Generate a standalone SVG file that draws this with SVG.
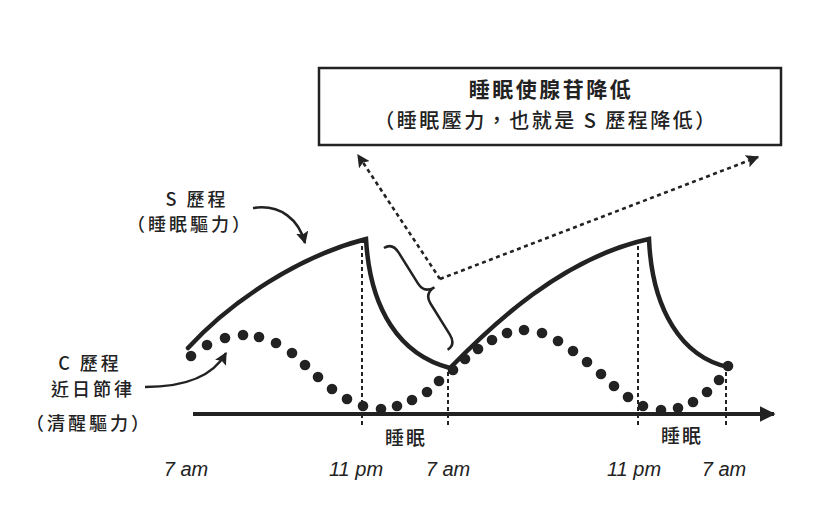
<svg xmlns="http://www.w3.org/2000/svg" width="814" height="510" viewBox="0 0 814 510">
<style>
.cjk{font-family:"Noto Sans CJK TC","Noto Sans CJK SC",sans-serif;fill:#222;text-anchor:middle;font-weight:500}
.title{font-weight:bold}
.time{font-family:"Liberation Sans",Arial,sans-serif;font-style:italic;font-size:20px;fill:#222;text-anchor:middle}
.curve{fill:none;stroke:#222;stroke-width:4.5;stroke-linejoin:miter;stroke-linecap:round}
.vdot{fill:none;stroke:#222;stroke-width:2;stroke-dasharray:4 3}
.ddash{fill:none;stroke:#222;stroke-width:2.6;stroke-dasharray:4 3.5}
.thin{fill:none;stroke:#222;stroke-width:2.5}
.dot{fill:#222}
</style>
<defs>
<marker id="ah" viewBox="0 0 10 10" refX="9" refY="5" markerWidth="5" markerHeight="5" markerUnits="strokeWidth" orient="auto">
<path d="M0,0 L10,5 L0,10 L2,5 z" fill="#222"/>
</marker>
<marker id="ahd" viewBox="0 0 10 10" refX="9" refY="5" markerWidth="5" markerHeight="5" markerUnits="strokeWidth" orient="auto">
<path d="M0,0 L10,5 L0,10 L2,5 z" fill="#222"/>
</marker>
<marker id="axh" viewBox="0 0 10 10" refX="9" refY="5" markerWidth="4" markerHeight="4" markerUnits="strokeWidth" orient="auto">
<path d="M0,0 L10,5 L0,10 z" fill="#222"/>
</marker>
</defs>
<rect width="814" height="510" fill="#fff"/>

<g id="callout-box">
<rect x="319" y="68" width="462" height="77" fill="#fff" stroke="#222" stroke-width="2.5"/>
<text class="cjk title" x="551" y="97" font-size="21" letter-spacing="2.5">睡眠使腺苷降低</text>
<text class="cjk" x="546" y="128" font-size="20" letter-spacing="2.5">（睡眠壓力，也就是 S 歷程降低）</text>
</g>

<g id="s-label">
<text class="cjk" x="197" y="206" font-size="18" letter-spacing="3">S 歷程</text>
<text class="cjk" x="190" y="231" font-size="18" letter-spacing="3">（睡眠驅力）</text>
</g>

<g id="c-label">
<text class="cjk" x="90" y="370" font-size="18" letter-spacing="3">C 歷程</text>
<text class="cjk" x="93" y="396" font-size="18" letter-spacing="3">近日節律</text>
<text class="cjk" x="89" y="430" font-size="18" letter-spacing="3">（清醒驅力）</text>
</g>

<g id="s-process">
<path class="curve" d="M188,348 C232,300 300,256 366,239 C370,310 400,355 450,368 C492,325 562,258 649,239 C652,310 682,357 728,367"/>
</g>

<g id="c-process">
<circle class="dot" cx="191" cy="356" r="5.3"/>
<circle class="dot" cx="207" cy="345" r="5.3"/>
<circle class="dot" cx="225" cy="338" r="5.3"/>
<circle class="dot" cx="243" cy="335" r="5.3"/>
<circle class="dot" cx="259" cy="337" r="5.3"/>
<circle class="dot" cx="276" cy="343" r="5.3"/>
<circle class="dot" cx="292" cy="353" r="5.3"/>
<circle class="dot" cx="305" cy="365" r="5.3"/>
<circle class="dot" cx="318" cy="377" r="5.3"/>
<circle class="dot" cx="332" cy="389" r="5.3"/>
<circle class="dot" cx="347" cy="399" r="5.3"/>
<circle class="dot" cx="363" cy="406" r="5.3"/>
<circle class="dot" cx="381" cy="409" r="5.3"/>
<circle class="dot" cx="397" cy="406" r="5.3"/>
<circle class="dot" cx="412" cy="400" r="5.3"/>
<circle class="dot" cx="427" cy="392" r="5.3"/>
<circle class="dot" cx="439" cy="381" r="5.3"/>
<circle class="dot" cx="453" cy="370" r="5.3"/>
<circle class="dot" cx="465" cy="359" r="5.3"/>
<circle class="dot" cx="478" cy="349" r="5.3"/>
<circle class="dot" cx="492" cy="340" r="5.3"/>
<circle class="dot" cx="507" cy="333" r="5.3"/>
<circle class="dot" cx="524" cy="330" r="5.3"/>
<circle class="dot" cx="542" cy="333" r="5.3"/>
<circle class="dot" cx="558" cy="341" r="5.3"/>
<circle class="dot" cx="573" cy="351" r="5.3"/>
<circle class="dot" cx="587" cy="362" r="5.3"/>
<circle class="dot" cx="601" cy="374" r="5.3"/>
<circle class="dot" cx="614" cy="386" r="5.3"/>
<circle class="dot" cx="628" cy="397" r="5.3"/>
<circle class="dot" cx="643" cy="406" r="5.3"/>
<circle class="dot" cx="661" cy="410" r="5.3"/>
<circle class="dot" cx="678" cy="408" r="5.3"/>
<circle class="dot" cx="693" cy="402" r="5.3"/>
<circle class="dot" cx="707" cy="392" r="5.3"/>
<circle class="dot" cx="719" cy="380" r="5.3"/>
<circle class="dot" cx="728" cy="366" r="5.3"/>
</g>

<g id="brace">
<path class="thin" d="M0,0 C7,0 10,4 10,12 L10,48 C10,56 14,60 22,60 C14,60 10,64 10,72 L10,108 C10,116 7,120 0,120" transform="translate(384,248) rotate(-32)"/>
</g>

<g id="axis">
<line x1="193" y1="414" x2="774" y2="414" stroke="#222" stroke-width="4" marker-end="url(#axh)"/>
</g>

<g id="connectors">
<line class="vdot" x1="362" y1="246" x2="362" y2="426"/>
<line class="vdot" x1="448" y1="372" x2="448" y2="426"/>
<line class="vdot" x1="638" y1="246" x2="638" y2="426"/>
<line class="vdot" x1="726" y1="372" x2="726" y2="426"/>
<path class="ddash" d="M440,279 L358,155" marker-end="url(#ahd)"/>
<path class="ddash" d="M440,279 L758,157" marker-end="url(#ahd)"/>
<path class="thin" d="M253,208 C281,204 299,220 305,243" marker-end="url(#ah)"/>
<path class="thin" d="M145,387 C182,387 212,378 226,353" marker-end="url(#ah)"/>
</g>

<g id="sleep-labels">
<text class="cjk" x="406" y="445" font-size="19" letter-spacing="2">睡眠</text>
<text class="cjk" x="682" y="443" font-size="19" letter-spacing="2">睡眠</text>
</g>

<g id="time-labels">
<text class="time" x="186" y="476">7 am</text>
<text class="time" x="356" y="476">11 pm</text>
<text class="time" x="448" y="476">7 am</text>
<text class="time" x="634" y="476">11 pm</text>
<text class="time" x="724" y="476">7 am</text>
</g>
</svg>
